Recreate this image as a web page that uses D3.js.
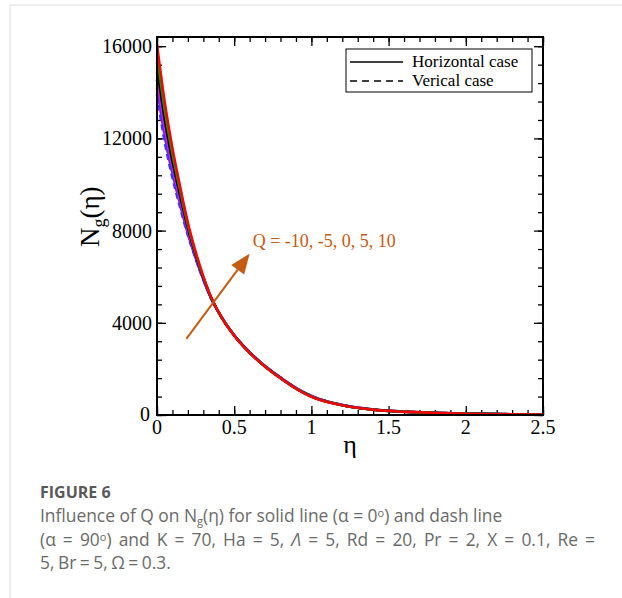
<!DOCTYPE html>
<html>
<head>
<meta charset="utf-8">
<script src="https://cdnjs.cloudflare.com/ajax/libs/d3/7.8.5/d3.min.js"></script>
<style>
  body { margin: 0; background: #fff; }
  svg { display: block; }
</style>
</head>
<body>
<div id="chart"></div>
<script>
// eta grid shared by every curve
var eta = [0, 0.05, 0.1, 0.15, 0.2, 0.25, 0.3, 0.35, 0.4, 0.5, 0.6, 0.7, 0.8, 0.9, 1.0, 1.2, 1.4, 1.6, 1.8, 2.0, 2.25, 2.5];

var qValues = [-10, -5, 0, 5, 10];
var qColours = ["#2b3cff", "#ff00ff", "#000000", "#00a000", "#ff0000"];

// horizontal case (alpha = 0), solid lines, one row per Q
var horizontal = [
    [14300, 12150, 10500, 9150, 7880, 6830, 5900, 5085, 4450, 3460, 2710, 2110, 1610, 1160, 810, 425, 234, 142, 92, 62, 36, 20],
    [14650, 12450, 10750, 9320, 7980, 6890, 5930, 5090, 4450, 3455, 2705, 2105, 1605, 1155, 805, 422, 232, 141, 91, 61, 35, 20],
    [15100, 12800, 11000, 9500, 8100, 6950, 5950, 5100, 4450, 3450, 2700, 2100, 1600, 1150, 800, 420, 230, 140, 90, 60, 35, 20],
    [15600, 13200, 11300, 9720, 8230, 7020, 5990, 5115, 4450, 3445, 2695, 2095, 1595, 1145, 795, 418, 228, 139, 89, 59, 35, 20],
    [16100, 13600, 11600, 9920, 8360, 7100, 6030, 5130, 4455, 3440, 2690, 2090, 1590, 1140, 790, 415, 225, 138, 88, 58, 34, 20]
];

// vertical case (alpha = 90), dashed lines
var vertical = [
    [13900, 11850, 10300, 9000, 7800, 6780, 5860, 5055, 4440, 3470, 2730, 2130, 1630, 1180, 830, 438, 244, 148, 97, 65, 38, 21],
    [14200, 12100, 10500, 9150, 7880, 6830, 5890, 5065, 4440, 3465, 2725, 2125, 1625, 1175, 825, 435, 242, 147, 96, 64, 38, 21],
    [14550, 12400, 10720, 9300, 7970, 6880, 5915, 5080, 4440, 3460, 2720, 2120, 1620, 1170, 820, 432, 240, 146, 95, 64, 37, 21],
    [14900, 12700, 10950, 9460, 8070, 6930, 5940, 5090, 4440, 3455, 2715, 2115, 1615, 1165, 815, 430, 238, 145, 94, 63, 37, 21],
    [15300, 13000, 11150, 9620, 8170, 6990, 5965, 5100, 4440, 3450, 2710, 2110, 1610, 1160, 810, 428, 236, 144, 93, 62, 36, 21]
];

var xTicks = [0, 0.5, 1, 1.5, 2, 2.5];
var yTicks = [0, 4000, 8000, 12000, 16000];
var legendLabels = ["Horizontal case", "Verical case"];

var W = 622, H = 598;
var margins = {left: 157, top: 37, right: 79, bottom: 183};
var width = W - margins.left - margins.right;
var height = H - margins.top - margins.bottom;
var serif = "'Liberation Serif', 'Times New Roman', serif";
var sans = "'Open Sans', 'Noto Sans', sans-serif";

var svg = d3.select("#chart").append("svg:svg")
    .attr("width", W)
    .attr("height", H);

// page frame lines
svg.append("line").attr("x1", 10).attr("x2", W).attr("y1", 5).attr("y2", 5)
    .attr("stroke", "#dcdcdc").attr("stroke-width", 1);
svg.append("line").attr("x1", 10).attr("x2", 10).attr("y1", 5).attr("y2", H)
    .attr("stroke", "#dcdcdc").attr("stroke-width", 1);

var g = svg.append("svg:g")
    .attr("transform", "translate(" + margins.left + "," + margins.top + ")");

var x = d3.scaleLinear().domain([0, 2.5]).range([0, width]);
var y = d3.scaleLinear().domain([0, 16400]).range([height, 0]);

// ticks point inward on all four sides
var minorX = d3.range(0, 2.5001, 0.1);
var minorY = d3.range(0, 16001, 800);

function addAxis(axis, transform, major, minor, sizeMajor, sizeMinor) {
    var a = g.append("g").attr("transform", transform);
    a.call(axis.tickValues(minor).tickSize(sizeMinor).tickFormat(""));
    var b = g.append("g").attr("transform", transform);
    b.call(axis.tickValues(major).tickSize(sizeMajor).tickFormat(""));
    [a, b].forEach(function(s) {
        s.select(".domain").remove();
        s.selectAll("line").attr("stroke", "#000").attr("stroke-width", 1.3);
    });
}
addAxis(d3.axisTop(x), "translate(0," + height + ")", xTicks, minorX, 9, 5);
addAxis(d3.axisBottom(x), "translate(0,0)", xTicks, minorX, 9, 5);
addAxis(d3.axisRight(y), "translate(0,0)", yTicks, minorY, 9, 5);
addAxis(d3.axisLeft(y), "translate(" + width + ",0)", yTicks, minorY, 9, 5);

// curves
var line = d3.line()
    .x(function(d) { return x(d[0]); })
    .y(function(d) { return y(d[1]); })
    .curve(d3.curveMonotoneX);

var curves = g.append("g").attr("class", "vis-series");
qValues.forEach(function(q, i) {
    curves.append("path")
        .datum(eta.map(function(e, j) { return [e, vertical[i][j]]; }))
        .attr("d", line)
        .attr("fill", "none")
        .attr("stroke", qColours[i])
        .attr("stroke-width", 2.6)
        .attr("stroke-dasharray", "6,4");
});
qValues.forEach(function(q, i) {
    curves.append("path")
        .datum(eta.map(function(e, j) { return [e, horizontal[i][j]]; }))
        .attr("d", line)
        .attr("fill", "none")
        .attr("stroke", qColours[i])
        .attr("stroke-width", 2.4);
});

// frame
g.append("rect")
    .attr("width", width).attr("height", height)
    .attr("fill", "none").attr("stroke", "#000").attr("stroke-width", 2);

// tick labels
g.selectAll(".xlab").data(xTicks).enter().append("text")
    .attr("x", function(d) { return x(d); })
    .attr("y", height + 19)
    .attr("text-anchor", "middle")
    .style("font-family", serif).style("font-size", "20px")
    .text(function(d) { return d; });

g.selectAll(".ylab").data(yTicks.slice(1)).enter().append("text")
    .attr("x", -5)
    .attr("y", function(d) { return y(d) + 7; })
    .attr("text-anchor", "end")
    .style("font-family", serif).style("font-size", "20px")
    .text(function(d) { return d; });

g.append("text")
    .attr("x", -7).attr("y", height + 6)
    .attr("text-anchor", "end")
    .style("font-family", serif).style("font-size", "20px")
    .text("0");

// axis titles
g.append("text")
    .attr("x", x(1.25)).attr("y", height + 38)
    .attr("text-anchor", "middle")
    .style("font-family", serif).style("font-size", "26px")
    .text("η");

var yl = g.append("text")
    .attr("transform", "translate(-58," + (y(8600)) + ") rotate(-90)")
    .attr("text-anchor", "middle")
    .style("font-family", serif).style("font-size", "27px");
yl.append("tspan").text("N");
yl.append("tspan").attr("dy", 6).style("font-size", "18px").text("g");
yl.append("tspan").attr("dy", -6).text("(η)");

// legend
var lg = g.append("g").attr("transform", "translate(" + (346 - margins.left) + "," + (49 - margins.top) + ")");
lg.append("rect").attr("width", 186).attr("height", 43)
    .attr("fill", "#fff").attr("stroke", "#000").attr("stroke-width", 1);
legendLabels.forEach(function(label, i) {
    var ly = 13 + i * 19;
    lg.append("line").attr("x1", 4).attr("x2", 57).attr("y1", ly).attr("y2", ly)
        .attr("stroke", "#000").attr("stroke-width", 1.6)
        .attr("stroke-dasharray", i === 1 ? "7,5" : null);
    lg.append("text").attr("x", 66).attr("y", ly + 5)
        .style("font-family", serif).style("font-size", "17px")
        .text(label);
});

// annotation arrow for increasing Q
var orange = "#c55a11";
var ax0 = x(0.19), ay0 = y(3300), ax1 = x(0.6), ay1 = y(7000);
var ang = Math.atan2(ay1 - ay0, ax1 - ax0);
var hl = 20, hw = 8;
g.append("line")
    .attr("x1", ax0).attr("y1", ay0)
    .attr("x2", ax1 - hl * Math.cos(ang)).attr("y2", ay1 - hl * Math.sin(ang))
    .attr("stroke", orange).attr("stroke-width", 2);
var bx = ax1 - hl * Math.cos(ang), by = ay1 - hl * Math.sin(ang);
g.append("path")
    .attr("d", "M" + ax1 + "," + ay1 +
        "L" + (bx + hw * Math.sin(ang)) + "," + (by - hw * Math.cos(ang)) +
        "L" + (bx - hw * Math.sin(ang)) + "," + (by + hw * Math.cos(ang)) + "Z")
    .attr("fill", orange);
g.append("text")
    .attr("x", x(0.62)).attr("y", y(7270))
    .attr("fill", orange)
    .style("font-family", serif).style("font-size", "18px")
    .text("Q = -10, -5, 0, 5, 10");

// caption
var cap = svg.append("g").style("font-family", sans).attr("fill", "#6a6a6a");
cap.append("text").attr("x", 40).attr("y", 498)
    .style("font-size", "16px").style("font-weight", "bold").attr("fill", "#595959")
    .text("FIGURE 6");

var l1 = cap.append("text").attr("x", 40).attr("y", 522).style("font-size", "17.4px");
l1.append("tspan").text("Influence of Q on N");
l1.append("tspan").attr("dy", 3).style("font-size", "11px").text("g");
l1.append("tspan").attr("dy", -3).text("(η) for solid line  (α = 0");
l1.append("tspan").attr("dy", -5).style("font-size", "11px").text("o");
l1.append("tspan").attr("dy", 5).text(") and dash line");

var l2 = cap.append("text").attr("x", 40).attr("y", 546).style("font-size", "17.4px")
    .style("word-spacing", "2.6px");
l2.append("tspan").text("(α = 90");
l2.append("tspan").attr("dy", -5).style("font-size", "11px").text("o");
l2.append("tspan").attr("dy", 5).text(") and K = 70, Ha = 5, ");
l2.append("tspan").style("font-style", "italic").text("Λ");
l2.append("tspan").text(" = 5, Rd = 20, Pr = 2, X = 0.1, Re =");

cap.append("text").attr("x", 40).attr("y", 569).style("font-size", "17.4px")
    .style("word-spacing", "-1px")
    .text("5, Br = 5, Ω = 0.3.");
</script>
</body>
</html>
